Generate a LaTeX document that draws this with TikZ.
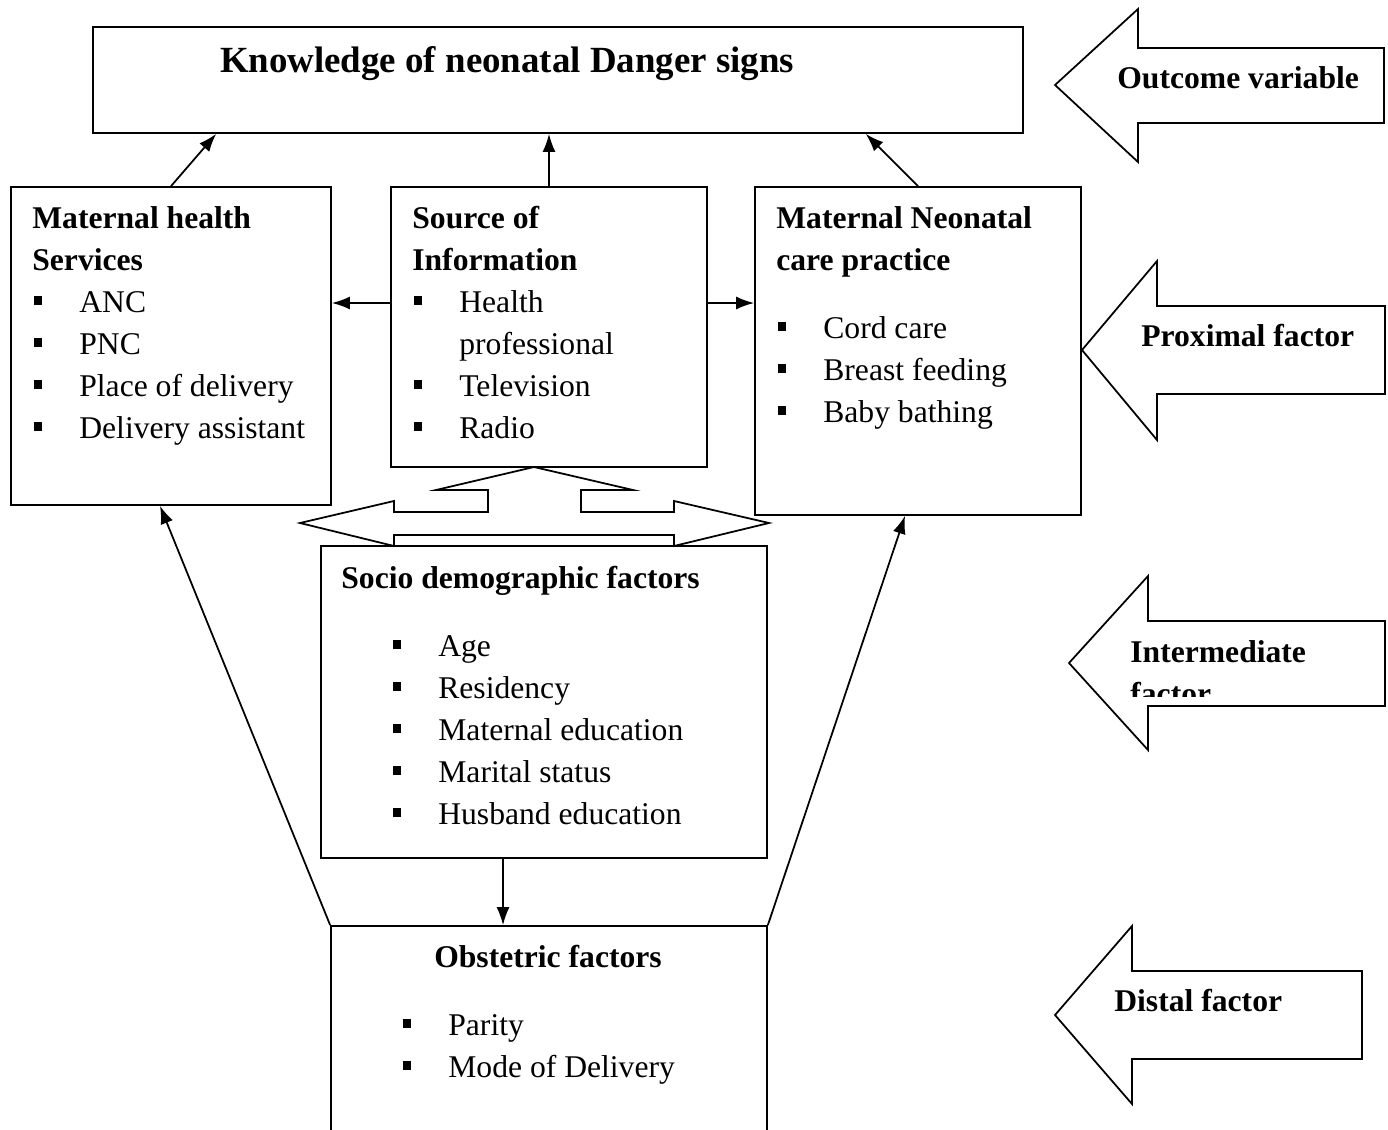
\documentclass[tikz,border=0pt]{standalone}
\usepackage{fontspec}
\setmainfont{Liberation Serif}
\usetikzlibrary{arrows.meta}
\tikzset{
      factorbox/.style={
        draw,
        line width=1pt,
        inner sep=0pt
      },
      boxtext/.style={
        anchor=base west,
        align=left,
        inner sep=0pt,
        font=\fontsize{18}{23.9}\selectfont
      },
      headtext/.style={
        anchor=base west,
        inner sep=0pt,
        font=\fontsize{18}{23.9}\selectfont\bfseries
      },
      conn/.style={line width=1pt, -{Latex[length=0.36cm,width=0.26cm]}},
      levelarrow/.style={draw, line width=1pt, line join=miter}
    }
\newcommand{\sqbul}{\makebox[0.94cm][l]{\hspace{0.03cm}\rule[0.15cm]{0.17cm}{0.17cm}}}

\begin{document}
\begin{tikzpicture}[x=0.02cm,y=-0.02cm]
    \useasboundingbox (0,0) rectangle (1388,1129);
    \clip (0,0) rectangle (1388,1129);
    % boxes
    \node[factorbox, minimum width=18.6cm, minimum height=2.12cm] (ndk) at (558,80) {};
    \node[factorbox, minimum width=6.4cm, minimum height=6.36cm] (mhs) at (171,346) {};
    \node[factorbox, minimum width=6.32cm, minimum height=5.6cm] (soi) at (549,327) {};
    \node[factorbox, minimum width=6.52cm, minimum height=6.56cm] (mnc) at (918,351) {};
    \node[factorbox, minimum width=8.92cm, minimum height=6.24cm] (sdf) at (544,702) {};
    \node[factorbox, minimum width=8.72cm, minimum height=4.6cm] (obs) at (549,1041) {};
    % texts (base = last line)
    \node[headtext, anchor=base, font=\fontsize{21}{25}\selectfont\bfseries] (ndk-t) at (507,72) {Knowledge of neonatal Danger signs};
    \node[boxtext] (mhs-t) at (32,438) {\textbf{Maternal health}\\\textbf{Services}\\\sqbul ANC\\\sqbul PNC\\\sqbul Place of delivery\\\sqbul Delivery assistant};
    \node[boxtext] (soi-t) at (412,438) {\textbf{Source of}\\\textbf{Information}\\\sqbul Health\\\hspace{0.94cm}professional\\\sqbul Television\\\sqbul Radio};
    \node[boxtext] (mnc-t) at (776,422) {\textbf{Maternal Neonatal}\\\textbf{care practice}\\[0.52cm]\sqbul Cord care\\\sqbul Breast feeding\\\sqbul Baby bathing};
    \node[headtext] (sdf-t) at (341,588) {Socio demographic factors};
    \node[boxtext] (sdf-l) at (391,824) {\sqbul Age\\\sqbul Residency\\\sqbul Maternal education\\\sqbul Marital status\\\sqbul Husband education};
    \node[headtext, anchor=base] (obs-t) at (548,967) {Obstetric factors};
    \node[boxtext] (obs-l) at (401,1077) {\sqbul Parity\\\sqbul Mode of Delivery};
    % two-way block arrow
    \draw[levelarrow] (534,467) -- (633,490) -- (581,490) -- (581,512) -- (674,512) -- (674,501) -- (769,523)
      -- (674,546) -- (674,535) -- (394,535) -- (394,546) -- (300,523) -- (394,501) -- (394,512)
      -- (488,512) -- (488,490) -- (436,490) -- cycle;
    % level arrows
    \foreach \px/\py/\nx/\ex/\hup/\bup/\bdn/\hdn in {1055/85/1138/1384/9/48/123/162, 1082/350/1157/1385/261/306/394/440,
        1069/663/1148/1385/576/621/706/750, 1055/1015/1132/1362/926/971/1059/1104}
      \draw[levelarrow] (\px,\py) -- (\nx,\hup) -- (\nx,\bup) -- (\ex,\bup) -- (\ex,\bdn) -- (\nx,\bdn) -- (\nx,\hdn) -- cycle;
    \node[headtext] (lv-out) at (1117,88) {Outcome variable};
    \node[headtext] (lv-prox) at (1141,346) {Proximal factor};
    \begin{scope}
      \clip (1100,600) rectangle (1385,696);
      \node[headtext, align=left] (lv-int) at (1130,704) {Intermediate\\factor};
    \end{scope}
    \node[headtext] (lv-dist) at (1114,1011) {Distal factor};
    % connectors
    \draw[conn] (mhs.north) -- ([xshift=2.48cm]ndk.south west);
    \draw[conn] (soi.north) -- (soi.north |- ndk.south);
    \draw[conn] (mnc.north) -- ([xshift=-3.16cm]ndk.south east);
    \draw[conn] (soi.west |- 0,303) -- (mhs.east |- 0,303);
    \draw[conn] (soi.east |- 0,303) -- (mnc.west |- 0,303);
    \draw[conn] (sdf.south -| 503,0) -- (obs.north -| 503,0);
    \draw[conn] (obs.north west) -- (mhs.south -| 160,0);
    \draw[conn] (obs.north east) -- (mnc.south -| 905,0);
\end{tikzpicture}
\end{document}
